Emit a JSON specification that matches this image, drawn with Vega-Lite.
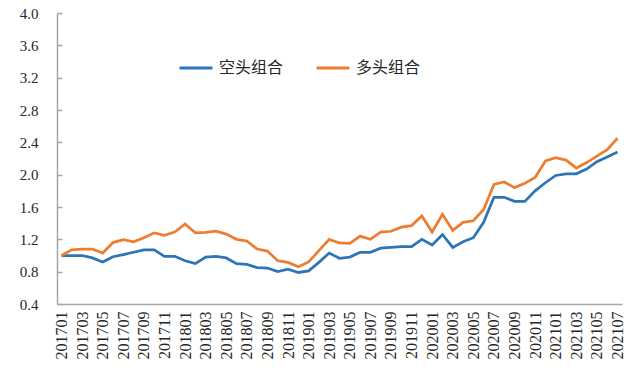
{
  "$schema": "https://vega.github.io/schema/vega-lite/v6.json",
  "width": 565,
  "height": 291,
  "autosize": {"type": "none"},
  "padding": {"left": 57, "top": 13, "right": 11, "bottom": 74},
  "background": "white",
  "config": {"view": {"stroke": null}, "axis": {"grid": false}},
  "data": {"values": [
    {"month": "201701", "空头组合": 1.00, "多头组合": 1.00},
    {"month": "201702", "空头组合": 1.00, "多头组合": 1.07},
    {"month": "201703", "空头组合": 1.00, "多头组合": 1.08},
    {"month": "201704", "空头组合": 0.97, "多头组合": 1.08},
    {"month": "201705", "空头组合": 0.92, "多头组合": 1.03},
    {"month": "201706", "空头组合": 0.985, "多头组合": 1.16},
    {"month": "201707", "空头组合": 1.01, "多头组合": 1.195},
    {"month": "201708", "空头组合": 1.04, "多头组合": 1.17},
    {"month": "201709", "空头组合": 1.07, "多头组合": 1.22},
    {"month": "201710", "空头组合": 1.07, "多头组合": 1.28},
    {"month": "201711", "空头组合": 0.99, "多头组合": 1.25},
    {"month": "201712", "空头组合": 0.99, "多头组合": 1.29},
    {"month": "201801", "空头组合": 0.935, "多头组合": 1.39},
    {"month": "201802", "空头组合": 0.90, "多头组合": 1.28},
    {"month": "201803", "空头组合": 0.98, "多头组合": 1.285},
    {"month": "201804", "空头组合": 0.99, "多头组合": 1.30},
    {"month": "201805", "空头组合": 0.97, "多头组合": 1.265},
    {"month": "201806", "空头组合": 0.90, "多头组合": 1.20},
    {"month": "201807", "空头组合": 0.89, "多头组合": 1.18},
    {"month": "201808", "空头组合": 0.85, "多头组合": 1.08},
    {"month": "201809", "空头组合": 0.845, "多头组合": 1.055},
    {"month": "201810", "空头组合": 0.80, "多头组合": 0.935},
    {"month": "201811", "空头组合": 0.83, "多头组合": 0.915},
    {"month": "201812", "空头组合": 0.79, "多头组合": 0.86},
    {"month": "201901", "空头组合": 0.81, "多头组合": 0.92},
    {"month": "201902", "空头组合": 0.915, "多头组合": 1.06},
    {"month": "201903", "空头组合": 1.03, "多头组合": 1.20},
    {"month": "201904", "空头组合": 0.965, "多头组合": 1.155},
    {"month": "201905", "空头组合": 0.98, "多头组合": 1.15},
    {"month": "201906", "空头组合": 1.04, "多头组合": 1.24},
    {"month": "201907", "空头组合": 1.04, "多头组合": 1.20},
    {"month": "201908", "空头组合": 1.09, "多头组合": 1.29},
    {"month": "201909", "空头组合": 1.10, "多头组合": 1.30},
    {"month": "201910", "空头组合": 1.11, "多头组合": 1.35},
    {"month": "201911", "空头组合": 1.11, "多头组合": 1.37},
    {"month": "201912", "空头组合": 1.20, "多头组合": 1.49},
    {"month": "202001", "空头组合": 1.13, "多头组合": 1.29},
    {"month": "202002", "空头组合": 1.26, "多头组合": 1.51},
    {"month": "202003", "空头组合": 1.10, "多头组合": 1.31},
    {"month": "202004", "空头组合": 1.17, "多头组合": 1.41},
    {"month": "202005", "空头组合": 1.22, "多头组合": 1.43},
    {"month": "202006", "空头组合": 1.41, "多头组合": 1.57},
    {"month": "202007", "空头组合": 1.72, "多头组合": 1.88},
    {"month": "202008", "空头组合": 1.72, "多头组合": 1.91},
    {"month": "202009", "空头组合": 1.67, "多头组合": 1.84},
    {"month": "202010", "空头组合": 1.67, "多头组合": 1.895},
    {"month": "202011", "空头组合": 1.80, "多头组合": 1.965},
    {"month": "202012", "空头组合": 1.90, "多头组合": 2.17},
    {"month": "202101", "空头组合": 1.99, "多头组合": 2.21},
    {"month": "202102", "空头组合": 2.01, "多头组合": 2.18},
    {"month": "202103", "空头组合": 2.01, "多头组合": 2.08},
    {"month": "202104", "空头组合": 2.07, "多头组合": 2.15},
    {"month": "202105", "空头组合": 2.16, "多头组合": 2.23},
    {"month": "202106", "空头组合": 2.22, "多头组合": 2.31},
    {"month": "202107", "空头组合": 2.28, "多头组合": 2.45}
  ]},
  "transform": [{"fold": ["空头组合", "多头组合"], "as": ["组合", "净值"]}],
  "mark": {"type": "line", "strokeWidth": 2.75},
  "encoding": {
    "x": {
      "field": "month",
      "type": "ordinal",
      "scale": {"type": "point", "padding": 0.44},
      "axis": {
        "title": null,
        "values": ["201701","201703","201705","201707","201709","201711","201801","201803","201805","201807","201809","201811","201901","201903","201905","201907","201909","201911","202001","202003","202005","202007","202009","202011","202101","202103","202105","202107"],
        "labelAngle": -90,
        "labelFont": "Liberation Serif",
        "labelFontSize": 16,
        "labelColor": "#262626",
        "labelPadding": 7,
        "ticks": false,
        "domainColor": "#A6A6A6",
        "domainWidth": 1.5
      }
    },
    "y": {
      "field": "净值",
      "type": "quantitative",
      "scale": {"domain": [0.4, 4.0], "nice": false, "zero": false},
      "axis": {
        "title": null,
        "values": [0.4, 0.8, 1.2, 1.6, 2.0, 2.4, 2.8, 3.2, 3.6, 4.0],
        "format": ".1f",
        "labelFont": "Liberation Serif",
        "labelFontSize": 15,
        "labelColor": "#262626",
        "tickSize": -5,
        "tickColor": "#A6A6A6",
        "tickWidth": 1.5,
        "labelPadding": 24,
        "domainColor": "#A6A6A6",
        "domainWidth": 1.5
      }
    },
    "color": {
      "field": "组合",
      "type": "nominal",
      "scale": {"domain": ["空头组合", "多头组合"], "range": ["#2E75B6", "#ED7D31"]},
      "legend": {
        "title": null,
        "orient": "none",
        "direction": "horizontal",
        "legendX": 121,
        "legendY": 37,
        "symbolType": "stroke",
        "symbolSize": 1089,
        "symbolStrokeWidth": 3,
        "labelFont": "Noto Sans CJK SC",
        "labelFontSize": 16,
        "labelColor": "#262626",
        "labelOffset": 5,
        "columnPadding": 26
      }
    }
  }
}
